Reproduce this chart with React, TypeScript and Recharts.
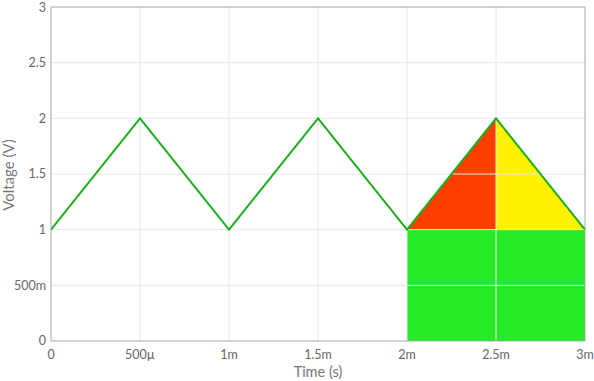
import React from "react";
import {
  ComposedChart,
  Area,
  Line,
  XAxis,
  YAxis,
  ReferenceLine,
} from "recharts";

const times = [0, 0.0005, 0.001, 0.0015, 0.002, 0.0025, 0.003];
const voltage = [1, 2, 1, 2, 1, 2, 1];
const redFill = [null, null, null, null, 1, 2, null];
const yellowFill = [null, null, null, null, null, 2, 1];
const greenFill = [null, null, null, null, 1, 1, 1];
const xTicks = [0, 0.0005, 0.001, 0.0015, 0.002, 0.0025, 0.003];
const yTicks = [0, 0.5, 1, 1.5, 2, 2.5, 3];

const data = times.map((t, i) => ({
  t,
  v: voltage[i],
  red: redFill[i],
  yellow: yellowFill[i],
  green: greenFill[i],
}));

function si(v: number): string {
  if (v === 0) return "0";
  const a = Math.abs(v);
  let s: number, p: string;
  if (a >= 1) { s = v; p = ""; }
  else if (a >= 1e-3) { s = v * 1e3; p = "m"; }
  else { s = v * 1e6; p = "µ"; }
  const r = Math.round(s * 1000) / 1000;
  return `${r}${p}`;
}

const FONT = "Lato, sans-serif";
const GRID = "#e6e6e6";
const AXIS = "#a6a6a6";

const YLabel = () => (
  <text
    x={8}
    y={175}
    transform="rotate(-90 8 175)"
    textAnchor="middle"
    dominantBaseline="central"
    fill="#777"
    fontSize={15}
    fontFamily={FONT}
  >
    Voltage (V)
  </text>
);

const XLabel = () => (
  <text
    x={318}
    y={377}
    textAnchor="middle"
    fill="#777"
    fontSize={14.5}
    fontFamily={FONT}
  >
    Time (s)
  </text>
);

export default function App() {
  return (
    <div style={{ position: "absolute", left: 0, top: 0, fontFamily: FONT }}>
      <ComposedChart
        width={594}
        height={381}
        data={data}
        margin={{ top: 7, right: 9, bottom: 0, left: 0 }}
      >
        <XAxis
          dataKey="t"
          type="number"
          domain={[0, 0.003]}
          ticks={xTicks}
          tickFormatter={si}
          tickLine={false}
          tickSize={0}
          tickMargin={9}
          stroke={AXIS}
          tick={{ fill: "#666", fontSize: 12.5, fontFamily: FONT }}
          height={40}
          label={<XLabel />}
        />
        <YAxis
          type="number"
          domain={[0, 3]}
          ticks={yTicks}
          tickFormatter={si}
          tickLine={false}
          tickSize={0}
          tickMargin={5}
          stroke={AXIS}
          width={51}
          tick={{ fill: "#666", fontSize: 12.5, fontFamily: FONT }}
          label={<YLabel />}
        />
        <Area dataKey="green" baseValue={0} fill="#26ea26" fillOpacity={1} stroke="none" isAnimationActive={false} type="linear" />
        <Area dataKey="red" baseValue={1} fill="#ff3f00" fillOpacity={1} stroke="none" isAnimationActive={false} type="linear" />
        <Area dataKey="yellow" baseValue={1} fill="#fff200" fillOpacity={1} stroke="none" isAnimationActive={false} type="linear" />
        {xTicks.slice(1, -1).map((x) => (
          <ReferenceLine key={"gx" + x} x={x} stroke={GRID} />
        ))}
        {yTicks.slice(1, -1).map((y) => (
          <ReferenceLine key={"gy" + y} y={y} stroke={GRID} />
        ))}
        <ReferenceLine y={3} stroke={AXIS} />
        <ReferenceLine x={0.003} stroke={AXIS} />
        <Line dataKey="v" stroke="#1fae1f" strokeWidth={2} dot={false} isAnimationActive={false} type="linear" />
      </ComposedChart>
    </div>
  );
}
